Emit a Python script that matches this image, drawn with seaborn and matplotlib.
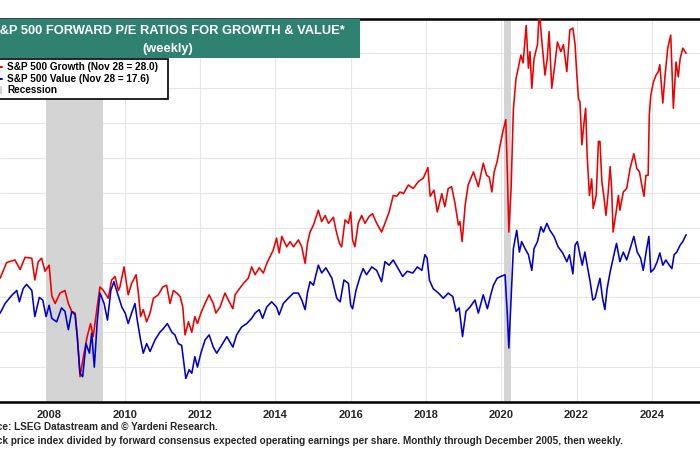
import matplotlib
matplotlib.use("Agg")
import matplotlib.pyplot as plt
import matplotlib.patches as mpatches
from matplotlib.lines import Line2D
import numpy as np
import pandas as pd
import seaborn as sns

# ---------------- data (decimal years, forward P/E) ----------------
growth_years = [2006.69, 2006.86, 2007.08, 2007.22, 2007.35, 2007.53, 2007.61, 2007.70, 2007.79, 2007.88,
                2007.99, 2008.06, 2008.15, 2008.28, 2008.41, 2008.50, 2008.59, 2008.68, 2008.74, 2008.81,
                2008.90, 2009.00, 2009.09, 2009.16, 2009.25, 2009.34, 2009.43, 2009.56, 2009.65, 2009.74,
                2009.83, 2009.87, 2009.98, 2010.09, 2010.18, 2010.30, 2010.36, 2010.42, 2010.49, 2010.58,
                2010.67, 2010.76, 2010.89, 2011.01, 2011.11, 2011.20, 2011.29, 2011.38, 2011.47, 2011.54,
                2011.60, 2011.69, 2011.78, 2011.86, 2011.93, 2012.02, 2012.13, 2012.24, 2012.35, 2012.42,
                2012.53, 2012.66, 2012.75, 2012.87, 2012.93, 2013.01, 2013.15, 2013.28, 2013.37, 2013.46,
                2013.57, 2013.68, 2013.77, 2013.86, 2013.94, 2014.03, 2014.10, 2014.17, 2014.30, 2014.39,
                2014.48, 2014.61, 2014.70, 2014.79, 2014.85, 2014.92, 2015.01, 2015.14, 2015.23, 2015.32,
                2015.41, 2015.54, 2015.61, 2015.70, 2015.76, 2015.85, 2015.94, 2016.00, 2016.05, 2016.11,
                2016.20, 2016.29, 2016.38, 2016.49, 2016.58, 2016.69, 2016.82, 2016.91, 2017.02, 2017.13,
                2017.22, 2017.31, 2017.40, 2017.53, 2017.66, 2017.80, 2017.93, 2018.05, 2018.11, 2018.21,
                2018.30, 2018.42, 2018.50, 2018.59, 2018.68, 2018.77, 2018.86, 2018.90, 2018.96, 2019.04,
                2019.12, 2019.26, 2019.39, 2019.52, 2019.61, 2019.68, 2019.75, 2019.81, 2019.89, 2019.97,
                2020.05, 2020.12, 2020.16, 2020.20, 2020.26, 2020.32, 2020.39, 2020.45, 2020.52, 2020.58,
                2020.66, 2020.72, 2020.76, 2020.81, 2020.87, 2020.96, 2021.01, 2021.07, 2021.16, 2021.22,
                2021.27, 2021.34, 2021.43, 2021.49, 2021.58, 2021.65, 2021.74, 2021.82, 2021.90, 2021.96,
                2022.00, 2022.05, 2022.09, 2022.14, 2022.20, 2022.24, 2022.28, 2022.34, 2022.40, 2022.44,
                2022.52, 2022.58, 2022.62, 2022.67, 2022.73, 2022.78, 2022.84, 2022.89, 2022.93, 2022.97,
                2023.05, 2023.11, 2023.15, 2023.24, 2023.33, 2023.42, 2023.52, 2023.60, 2023.67, 2023.73,
                2023.79, 2023.84, 2023.90, 2023.93, 2023.97, 2024.04, 2024.11, 2024.17, 2024.21, 2024.29,
                2024.35, 2024.42, 2024.50, 2024.57, 2024.64, 2024.70, 2024.75, 2024.82, 2024.91]
growth_pe = [15.1, 16.0, 16.15, 15.6, 16.3, 16.25, 15.0, 16.05, 16.25, 15.5,
             15.85, 14.1, 13.65, 14.25, 14.4, 13.65, 13.2, 13.1, 11.75, 9.45,
             10.6, 11.75, 12.5, 11.75, 13.2, 14.6, 14.4, 13.95, 15.0, 15.2,
             14.4, 14.6, 15.75, 14.15, 14.8, 15.3, 14.25, 12.9, 13.3, 12.6,
             13.1, 13.95, 14.15, 14.6, 14.7, 13.65, 14.4, 14.25, 14.05, 13.45,
             11.85, 12.6, 12.0, 12.9, 12.5, 13.1, 13.65, 14.15, 13.65, 13.1,
             13.45, 14.25, 13.85, 13.35, 14.15, 14.4, 14.8, 15.1, 15.75, 15.3,
             15.7, 15.4, 15.95, 16.35, 16.7, 17.4, 16.55, 17.5, 16.9, 17.2,
             16.9, 17.3, 16.9, 15.95, 17.1, 17.75, 18.15, 19.0, 18.35, 18.7,
             18.25, 18.6, 17.85, 17.1, 16.9, 18.45, 18.25, 18.9, 17.3, 16.9,
             18.25, 18.7, 18.25, 18.65, 18.8, 18.25, 17.75, 18.25, 18.9, 19.85,
             19.8, 20.05, 19.95, 20.45, 20.25, 20.65, 20.85, 21.45, 19.8, 20.15,
             18.9, 19.95, 19.2, 20.25, 20.35, 19.4, 18.15, 18.35, 17.2, 19.3,
             20.45, 21.2, 20.35, 21.7, 21.0, 20.9, 20.05, 21.2, 21.8, 22.75,
             23.6, 24.2, 21.2, 17.75, 20.25, 24.75, 26.55, 27.15, 27.9, 27.45,
             29.6, 27.15, 28.1, 26.0, 27.7, 28.5, 30.5, 28.85, 26.75, 27.7,
             29.25, 26.0, 27.5, 28.65, 28.1, 28.5, 26.95, 29.35, 29.45, 28.5,
             26.95, 25.4, 25.2, 22.75, 24.1, 24.85, 22.15, 19.85, 20.8, 19.1,
             19.85, 22.95, 22.95, 20.65, 19.7, 18.7, 20.05, 21.5, 20.25, 17.75,
             18.9, 19.85, 19.0, 20.05, 20.25, 21.4, 22.25, 21.4, 21.2, 20.45,
             19.8, 21.0, 21.0, 24.45, 25.6, 26.35, 26.75, 26.95, 27.35, 25.15,
             26.75, 28.3, 29.05, 24.85, 27.5, 26.65, 27.7, 28.3, 28.0]

value_years = [2006.69, 2006.82, 2006.99, 2007.13, 2007.20, 2007.30, 2007.39, 2007.53, 2007.61, 2007.73,
               2007.82, 2007.91, 2007.99, 2008.06, 2008.19, 2008.32, 2008.41, 2008.50, 2008.59, 2008.68,
               2008.74, 2008.81, 2008.88, 2008.97, 2009.06, 2009.12, 2009.19, 2009.27, 2009.34, 2009.45,
               2009.54, 2009.63, 2009.71, 2009.92, 2010.01, 2010.09, 2010.18, 2010.27, 2010.33, 2010.42,
               2010.49, 2010.58, 2010.67, 2010.80, 2010.93, 2011.02, 2011.13, 2011.25, 2011.33, 2011.42,
               2011.51, 2011.57, 2011.62, 2011.71, 2011.78, 2011.86, 2011.93, 2012.02, 2012.13, 2012.24,
               2012.35, 2012.44, 2012.57, 2012.71, 2012.87, 2012.97, 2013.10, 2013.24, 2013.37, 2013.46,
               2013.57, 2013.66, 2013.77, 2013.90, 2014.03, 2014.10, 2014.21, 2014.34, 2014.48, 2014.61,
               2014.70, 2014.79, 2014.85, 2014.92, 2015.01, 2015.14, 2015.23, 2015.34, 2015.50, 2015.63,
               2015.72, 2015.82, 2015.94, 2016.00, 2016.05, 2016.14, 2016.25, 2016.33, 2016.42, 2016.56,
               2016.69, 2016.82, 2016.91, 2017.02, 2017.13, 2017.26, 2017.38, 2017.50, 2017.65, 2017.77,
               2017.89, 2017.97, 2018.03, 2018.09, 2018.19, 2018.33, 2018.46, 2018.59, 2018.71, 2018.80,
               2018.88, 2018.97, 2019.06, 2019.17, 2019.30, 2019.39, 2019.52, 2019.63, 2019.72, 2019.79,
               2019.89, 2019.98, 2020.10, 2020.16, 2020.20, 2020.26, 2020.32, 2020.41, 2020.48, 2020.54,
               2020.63, 2020.72, 2020.81, 2020.87, 2020.96, 2021.05, 2021.12, 2021.21, 2021.29, 2021.40,
               2021.51, 2021.63, 2021.74, 2021.81, 2021.90, 2021.96, 2022.02, 2022.09, 2022.15, 2022.22,
               2022.28, 2022.36, 2022.43, 2022.49, 2022.55, 2022.62, 2022.69, 2022.75, 2022.81, 2022.89,
               2022.97, 2023.06, 2023.15, 2023.24, 2023.33, 2023.42, 2023.52, 2023.61, 2023.70, 2023.77,
               2023.86, 2023.92, 2023.97, 2024.06, 2024.14, 2024.21, 2024.29, 2024.37, 2024.46, 2024.53,
               2024.59, 2024.66, 2024.75, 2024.82, 2024.91]
value_pe = [13.1, 13.65, 14.1, 14.4, 13.75, 14.5, 14.75, 14.4, 12.9, 14.0,
            13.85, 12.9, 13.55, 12.8, 12.6, 13.4, 13.2, 12.15, 13.2, 13.0,
            11.65, 9.65, 9.45, 11.35, 10.8, 11.95, 10.0, 12.7, 14.25, 13.65,
            12.7, 14.4, 14.9, 13.45, 13.1, 12.5, 13.1, 13.65, 12.7, 11.55,
            10.8, 11.35, 10.9, 11.55, 12.0, 12.2, 12.5, 12.0, 11.85, 11.35,
            11.25, 10.2, 9.35, 9.85, 9.65, 10.6, 10.0, 10.8, 11.55, 11.85,
            11.15, 10.8, 11.25, 11.75, 11.15, 11.85, 12.3, 12.5, 12.8, 13.1,
            13.3, 12.8, 13.45, 13.75, 13.45, 13.0, 13.65, 13.95, 14.25, 14.25,
            13.85, 13.3, 14.25, 14.9, 14.7, 15.85, 15.4, 15.7, 15.1, 13.95,
            13.75, 15.0, 14.8, 13.55, 13.35, 14.4, 15.2, 15.65, 15.3, 15.75,
            15.55, 14.9, 16.05, 15.85, 16.15, 15.65, 15.2, 15.5, 15.4, 15.75,
            15.55, 16.45, 16.25, 15.0, 14.5, 14.25, 13.95, 14.25, 14.05, 13.2,
            13.4, 11.75, 13.2, 13.45, 13.85, 13.1, 14.15, 13.35, 14.15, 14.7,
            15.1, 15.2, 15.3, 13.0, 11.1, 13.95, 16.8, 17.85, 16.6, 17.2,
            16.8, 16.45, 15.55, 16.8, 17.2, 18.05, 17.75, 18.25, 17.85, 17.5,
            16.9, 16.55, 16.05, 16.45, 15.35, 17.0, 17.2, 16.45, 15.85, 16.6,
            15.85, 14.9, 13.85, 13.95, 14.5, 15.1, 13.95, 13.3, 14.5, 15.45,
            16.25, 17.1, 16.05, 16.6, 16.15, 16.8, 17.5, 16.6, 16.25, 15.55,
            16.8, 17.5, 15.45, 15.65, 16.05, 16.55, 15.85, 16.15, 15.85, 15.65,
            16.45, 16.6, 17.0, 17.2, 17.6]

recession_starts = [2007.92, 2020.08]
recession_ends = [2009.42, 2020.25]

year_ticks = [2008, 2010, 2012, 2014, 2016, 2018, 2020, 2022, 2024]
title_lines = ["S&P 500 FORWARD P/E RATIOS FOR GROWTH & VALUE*", "(weekly)"]
legend_labels = ["S&P 500 Growth (Nov 28 = 28.0)", "S&P 500 Value (Nov 28 = 17.6)", "Recession"]
source_note = "Source: LSEG Datastream and \u00a9 Yardeni Research."
footnote = ("* Stock price index divided by forward consensus expected operating earnings per share. "
            "Monthly through December 2005, then weekly.")

# ---------------- styling ----------------
sns.set_theme(style="white")
plt.rcParams["font.family"] = ["Liberation Sans", "DejaVu Sans"]

RED = "#ee0000"
BLUE = "#0000cc"
TEAL = "#2f8270"
GRAY = "#d4d4d4"

W, H = 700, 450
fig = plt.figure(figsize=(7, 4.5), dpi=100)
top_px, bot_px = 18.5, 402
ax = fig.add_axes([0, 1 - bot_px / H, 1, (bot_px - top_px) / H])

df = pd.concat([
    pd.DataFrame({"year": growth_years, "pe": growth_pe, "series": "growth"}),
    pd.DataFrame({"year": value_years, "pe": value_pe, "series": "value"}),
])

for s0, s1 in zip(recession_starts, recession_ends):
    ax.axvspan(s0, s1, color=GRAY, lw=0, zorder=1)

sns.lineplot(data=df, x="year", y="pe", hue="series", palette={"growth": RED, "value": BLUE},
             ax=ax, lw=1.15, legend=False, zorder=3, estimator=None, sort=False)

ax.set_xlabel("")
ax.set_ylabel("")
ax.set_yticks(np.arange(8, 31, 2))
ax.set_yticklabels([])
ax.tick_params(axis="y", length=0)
ax.set_xticks(year_ticks)
ax.set_xticklabels([str(y) for y in year_ticks], fontsize=8, fontweight="bold")
ax.set_xticks(np.arange(2006, 2027, 0.25), minor=True)
ax.tick_params(axis="x", which="major", direction="out", length=4, width=1, color="black", pad=2)
ax.tick_params(axis="x", which="minor", direction="out", length=2.5, width=0.8, color="black")
ax.set_xlim(2006.685, 2006.685 + W / 37.65)
ax.set_ylim(8, 30)
ax.grid(True, which="major", color="#e6e6e6", lw=0.8, zorder=0)
for sp in ["left", "right"]:
    ax.spines[sp].set_visible(False)
for sp in ["top", "bottom"]:
    ax.spines[sp].set_visible(True)
    ax.spines[sp].set_color("black")
    ax.spines[sp].set_linewidth(1.8)

def fx(px):
    return px / W

def fy(py):
    return 1 - py / H

# title box
fig.patches.append(mpatches.Rectangle((fx(-5), fy(58)), fx(365), (58 - 19) / H,
                                      transform=fig.transFigure, facecolor=TEAL,
                                      edgecolor="none", zorder=5))
fig.text(fx(168), fy(31), title_lines[0], color="white", fontsize=9.3, fontweight="bold",
         ha="center", va="center", zorder=6)
fig.text(fx(168), fy(49), title_lines[1], color="white", fontsize=9.3, fontweight="bold",
         ha="center", va="center", zorder=6)

# legend box
fig.patches.append(mpatches.Rectangle((fx(-5), fy(98.5)), fx(173), (98.5 - 59) / H,
                                      transform=fig.transFigure, facecolor="white",
                                      edgecolor="black", lw=1.2, zorder=5))
rows = [67, 79, 90]
fig.lines.append(Line2D([fx(-12), fx(2)], [fy(rows[0])] * 2, color=RED, lw=1.4,
                        transform=fig.transFigure, zorder=6))
fig.lines.append(Line2D([fx(-12), fx(2)], [fy(rows[1])] * 2, color=BLUE, lw=1.4,
                        transform=fig.transFigure, zorder=6))
fig.patches.append(mpatches.Rectangle((fx(-6), fy(94)), fx(8), 8 / H, transform=fig.transFigure,
                                      facecolor=GRAY, edgecolor="none", zorder=6))
for r, lab in zip(rows, legend_labels):
    fig.text(fx(7), fy(r), lab, fontsize=7.2, fontweight="bold", color="black",
             ha="left", va="center", zorder=7)

# footer
fig.text(fx(218), fy(427), source_note, fontsize=7.2, fontweight="bold",
         family=["Liberation Sans Narrow", "Liberation Sans", "DejaVu Sans"], ha="right", va="center")
fig.text(fx(623), fy(441), footnote, fontsize=7.2, fontweight="bold",
         family=["Liberation Sans Narrow", "Liberation Sans", "DejaVu Sans"], ha="right", va="center")

fig.savefig("out.png", dpi=100)
